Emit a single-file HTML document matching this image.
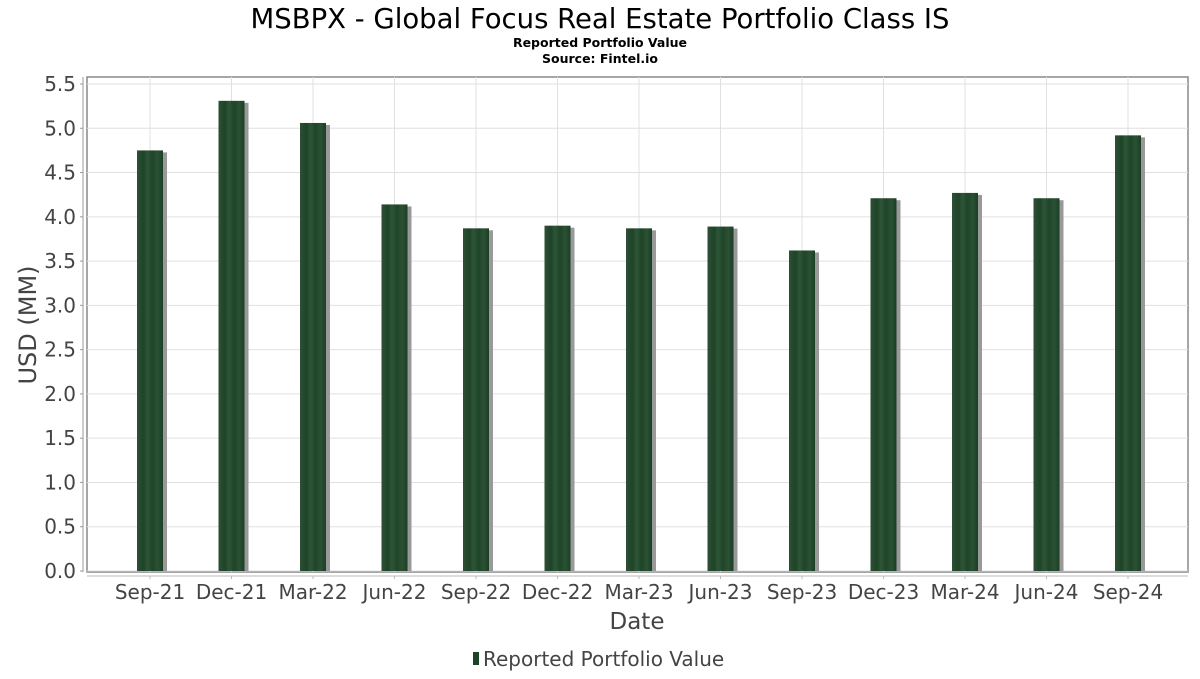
<!DOCTYPE html>
<html><head><meta charset="utf-8"><style>
body{margin:0;background:#fff;font-family:"DejaVu Sans","Liberation Sans",sans-serif;}
svg text{font-family:"DejaVu Sans","Liberation Sans",sans-serif;}
</style></head><body>
<svg id="c" width="1200" height="675">
<defs>
<linearGradient id="bg" x1="0" x2="1" y1="0" y2="0">
<stop offset="0" stop-color="#2e4f36"/><stop offset="0.25" stop-color="#1e4428"/><stop offset="0.4" stop-color="#2f5538"/><stop offset="0.6" stop-color="#1f4529"/><stop offset="0.8" stop-color="#2c5034"/><stop offset="1" stop-color="#1b3f24"/>
</linearGradient>
</defs>
<text x="600" y="28" text-anchor="middle" font-size="27.5" fill="#000">MSBPX - Global Focus Real Estate Portfolio Class IS</text>
<text x="600" y="47" text-anchor="middle" font-size="12.5" font-weight="bold" fill="#000">Reported Portfolio Value</text>
<text x="600" y="63" text-anchor="middle" font-size="12.5" font-weight="bold" fill="#000">Source: Fintel.io</text>
<rect x="87" y="77" width="1101" height="495" fill="#fff" stroke="#888" stroke-width="1.5"/>
<line x1="83" y1="77" x2="83" y2="572" stroke="#999"/>
<line x1="87" y1="576" x2="1188" y2="576" stroke="#bbb"/>
<g id="grid"></g><g id="bars"></g><g id="ticks"></g>
<text transform="translate(36,325) rotate(-90)" text-anchor="middle" font-size="24" fill="#444">USD (MM)</text>
<text x="637" y="629" text-anchor="middle" font-size="23" fill="#444">Date</text>
<g>
<rect x="473" y="652" width="6" height="13" fill="#1e4428"/>
<text x="483" y="666" font-size="20" fill="#444">Reported Portfolio Value</text>
</g>
</svg>
<script>
const categories=["Sep-21","Dec-21","Mar-22","Jun-22","Sep-22","Dec-22","Mar-23","Jun-23","Sep-23","Dec-23","Mar-24","Jun-24","Sep-24"];
const values=[4.75,5.31,5.06,4.14,3.87,3.90,3.87,3.89,3.62,4.21,4.27,4.21,4.92];
const yTicks=[0,0.5,1,1.5,2,2.5,3,3.5,4,4.5,5,5.5];
const yTickLabels=["0.0","0.5","1.0","1.5","2.0","2.5","3.0","3.5","4.0","4.5","5.0","5.5"];
const NS="http://www.w3.org/2000/svg";
const y=v=>571-v*(487/5.5);
const x=i=>150+i*81.5;
function mk(t,a,p){const e=document.createElementNS(NS,t);for(const k in a)e.setAttribute(k,a[k]);p.appendChild(e);return e;}
const grid=document.getElementById('grid'),bars=document.getElementById('bars'),ticks=document.getElementById('ticks');
yTicks.forEach((v,i)=>{
 const g=mk('line',{x1:87,x2:1188,y1:y(v),y2:y(v),stroke:'#e0e0e0'},grid);
 
 
 const tk=mk('line',{x1:80,x2:83,y1:y(v),y2:y(v),stroke:'#999'},ticks);
 
 
 const t=mk('text',{x:76,y:y(v)+7,'text-anchor':'end','font-size':20,fill:'#444'},ticks);
 t.textContent=yTickLabels[i];
 
 
});
categories.forEach((c,i)=>{
 const g=mk('line',{x1:x(i),x2:x(i),y1:77,y2:572,stroke:'#e0e0e0'},grid);
 
 
 const s=mk('rect',{x:x(i)-9,y:y(values[i])+2,width:26,height:571-y(values[i])-2,fill:'#999'},bars);
 
 
 const b=mk('rect',{x:x(i)-13,y:y(values[i]),width:26,height:571-y(values[i]),fill:'url(#bg)'},bars);
 
 
 const tk=mk('line',{x1:x(i),x2:x(i),y1:576,y2:579,stroke:'#bbb'},ticks);
 
 
 const t=mk('text',{x:x(i),y:599,'text-anchor':'middle','font-size':20,fill:'#444'},ticks);
 t.textContent=c;
 
 
});
</script>
</body></html>
